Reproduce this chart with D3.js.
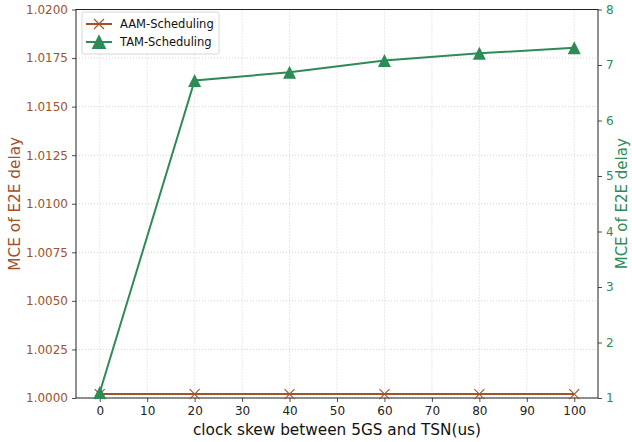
<!DOCTYPE html>
<html>
<head>
<meta charset="utf-8">
<script src="https://cdn.jsdelivr.net/npm/d3@7"></script>
<style>
body { margin:0; background:#fff; }
svg text { font-family: "DejaVu Sans", sans-serif; }
</style>
</head>
<body>
<script>
var width = 632, height = 442;
// data
var skew = [0, 20, 40, 60, 80, 100];
var aam = [1.0002, 1.0002, 1.0002, 1.0002, 1.0002, 1.0002];
var tam = [1.1, 6.72, 6.87, 7.08, 7.21, 7.31];
var xTicks = [0, 10, 20, 30, 40, 50, 60, 70, 80, 90, 100];
var leftTicks = [1.0000, 1.0025, 1.0050, 1.0075, 1.0100, 1.0125, 1.0150, 1.0175, 1.0200];
var rightTicks = [1, 2, 3, 4, 5, 6, 7, 8];

var brown = "#a0522d", green = "#2e8b57";
var margin = {left:76, right:34, top:9.5, bottom:44};

var svg = d3.select("body").append("svg")
            .attr("width", width)
            .attr("height", height);

var w = width - margin.left - margin.right;
var h = height - margin.top - margin.bottom;

var g = svg.append("g")
           .attr("transform","translate("+margin.left+","+margin.top+")");

var x = d3.scaleLinear().domain([-5, 105]).range([0, w]);
var yL = d3.scaleLinear().domain([1.0, 1.02]).range([h, 0]);
var yR = d3.scaleLinear().domain([1, 8]).range([h, 0]);

// grid
g.selectAll(".vgrid").data(xTicks).enter().append("line")
  .attr("x1", function(d){return x(d);}).attr("x2", function(d){return x(d);})
  .attr("y1", 0).attr("y2", h)
  .attr("stroke", "#c8c8c8").attr("stroke-width", 0.8).attr("stroke-dasharray", "1,2");
g.selectAll(".hgrid").data(leftTicks).enter().append("line")
  .attr("x1", 0).attr("x2", w)
  .attr("y1", function(d){return yL(d);}).attr("y2", function(d){return yL(d);})
  .attr("stroke", "#c8c8c8").attr("stroke-width", 0.8).attr("stroke-dasharray", "1,2");

// axes
var xAxis = d3.axisBottom(x).tickValues(xTicks).tickSize(4).tickPadding(4);
var leftAxis = d3.axisLeft(yL).tickValues(leftTicks).tickFormat(d3.format(".4f")).tickSize(4).tickPadding(4);
var rightAxis = d3.axisRight(yR).tickValues(rightTicks).tickFormat(d3.format("d")).tickSize(4).tickPadding(4);

var gx = g.append("g").attr("transform","translate(0,"+h+")").call(xAxis);
var gl = g.append("g").call(leftAxis);
var gr = g.append("g").attr("transform","translate("+w+",0)").call(rightAxis);

[gx, gl, gr].forEach(function(a){
  a.select(".domain").remove();
  a.selectAll("line").attr("stroke", "#222").attr("stroke-width", 0.8);
  a.selectAll("text").style("font-size", "12px");
});
gx.selectAll("text").attr("fill", "#222");
gl.selectAll("text").attr("fill", brown);
gr.selectAll("text").attr("fill", green);

// frame
g.append("rect").attr("x",0).attr("y",0).attr("width",w).attr("height",h)
  .attr("fill","none").attr("stroke","#222").attr("stroke-width",1);

// lines
var lineL = d3.line().x(function(d,i){return x(skew[i]);}).y(function(d){return yL(d);});
var lineR = d3.line().x(function(d,i){return x(skew[i]);}).y(function(d){return yR(d);});

g.append("path").attr("d", lineL(aam)).attr("fill","none")
  .attr("stroke", brown).attr("stroke-width", 2);

var cross = "M-5,-5L5,5M-5,5L5,-5";
g.selectAll(".aam").data(aam).enter().append("path")
  .attr("transform", function(d,i){return "translate("+x(skew[i])+","+yL(d)+")";})
  .attr("d", cross).attr("stroke", brown).attr("stroke-width", 1.1).attr("fill","none");

g.append("path").attr("d", lineR(tam)).attr("fill","none")
  .attr("stroke", green).attr("stroke-width", 2);

var tri = "M0,-6.5L6.5,6.5L-6.5,6.5Z";
g.selectAll(".tam").data(tam).enter().append("path")
  .attr("transform", function(d,i){return "translate("+x(skew[i])+","+yR(d)+")";})
  .attr("d", tri).attr("fill", green);

// axis labels
svg.append("text")
  .attr("x", margin.left + w/2).attr("y", 435)
  .attr("text-anchor","middle").style("font-size","15.3px").attr("fill","#111")
  .text("clock skew between 5GS and TSN(us)");

svg.append("text")
  .attr("transform","translate(20,"+(margin.top + h/2)+") rotate(-90)")
  .attr("text-anchor","middle").style("font-size","15.3px").attr("fill", brown)
  .text("MCE of E2E delay");

svg.append("text")
  .attr("transform","translate(627,"+(margin.top + h/2)+") rotate(-90)")
  .attr("text-anchor","middle").style("font-size","15px").attr("fill", green)
  .text("MCE of E2E delay");

// legend
var lg = svg.append("g").attr("transform","translate(82,12)");
lg.append("rect").attr("width",137).attr("height",42).attr("rx",2)
  .attr("fill","#fff").attr("fill-opacity",0.85).attr("stroke","#ccc").attr("stroke-width",0.8);
var items = [
  {name:"AAM-Scheduling", color:brown, mark:cross, fill:"none"},
  {name:"TAM-Scheduling", color:green, mark:tri, fill:green}
];
items.forEach(function(it, i){
  var yy = 12 + i*18;
  lg.append("line").attr("x1",4).attr("x2",30).attr("y1",yy).attr("y2",yy)
    .attr("stroke", it.color).attr("stroke-width",2);
  lg.append("path").attr("transform","translate(17,"+yy+")").attr("d", it.mark)
    .attr("stroke", it.color).attr("stroke-width",1.1).attr("fill", it.fill);
  lg.append("text").attr("x",38).attr("y",yy+4).style("font-size","11.5px")
    .attr("fill","#111").text(it.name);
});
</script>
</body>
</html>
